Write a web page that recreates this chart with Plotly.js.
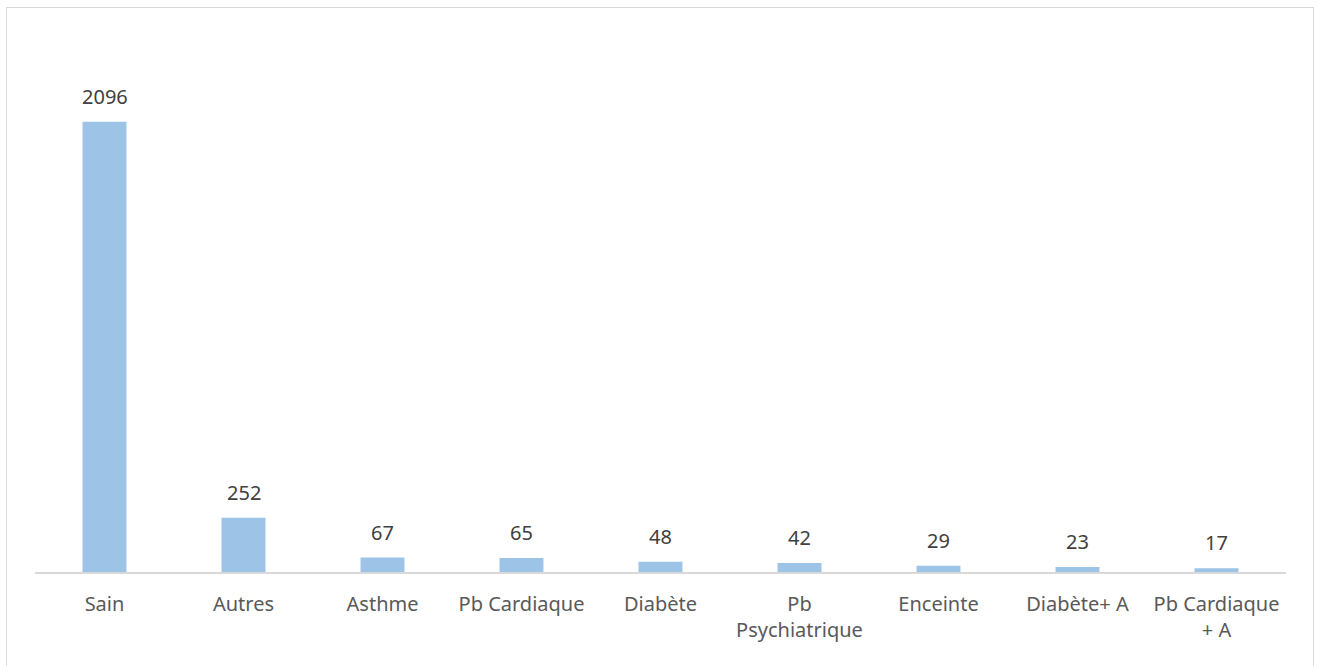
<!DOCTYPE html>
<html>
<head>
<meta charset="utf-8">
<script src="https://cdn.plot.ly/plotly-3.0.1.min.js"></script>
<style>
  html, body { margin: 0; padding: 0; background: #fff; }
  #frame { position: absolute; left: 6px; top: 7px; width: 1308px; height: 700px; border: 1.5px solid #d9d9d9; box-sizing: border-box; }
  #chart { position: absolute; left: 0; top: 0; width: 1319px; height: 666px; }
</style>
</head>
<body>
<div id="frame"></div>
<div id="chart"></div>
<script>
const categories = ["Sain", "Autres", "Asthme", "Pb Cardiaque", "Diabète", "Pb<br>Psychiatrique", "Enceinte", "Diabète+ A", "Pb Cardiaque<br>+ A"];
const counts = [2096, 252, 67, 65, 48, 42, 29, 23, 17];

const trace = {
  type: 'bar',
  x: categories,
  y: counts,
  marker: { color: '#9DC3E6' },
  hoverinfo: 'x+y'
};

const annotations = categories.map((c, i) => ({
  x: c, y: counts[i], xref: 'x', yref: 'y',
  text: String(counts[i]),
  showarrow: false, yanchor: 'bottom', yshift: 10,
  font: { family: 'Noto Sans, Open Sans, sans-serif', size: 20, color: '#404040' }
}));

const layout = {
  width: 1319, height: 666,
  margin: { l: 35, r: 33, t: 35, b: 94 },
  paper_bgcolor: 'rgba(0,0,0,0)',
  plot_bgcolor: 'rgba(0,0,0,0)',
  bargap: 0.684,
  showlegend: false,
  xaxis: {
    showline: true, linecolor: '#d9d9d9', linewidth: 1.5,
    ticks: '', showgrid: false, zeroline: false,
    tickfont: { family: 'Noto Sans, Open Sans, sans-serif', size: 20, color: '#595959' },
    ticklabelstandoff: 13
  },
  yaxis: {
    range: [0, 2500], visible: false, showgrid: false, zeroline: false
  },
  annotations: annotations
};

Plotly.newPlot('chart', [trace], layout, { displayModeBar: false, staticPlot: true });
</script>
</body>
</html>
